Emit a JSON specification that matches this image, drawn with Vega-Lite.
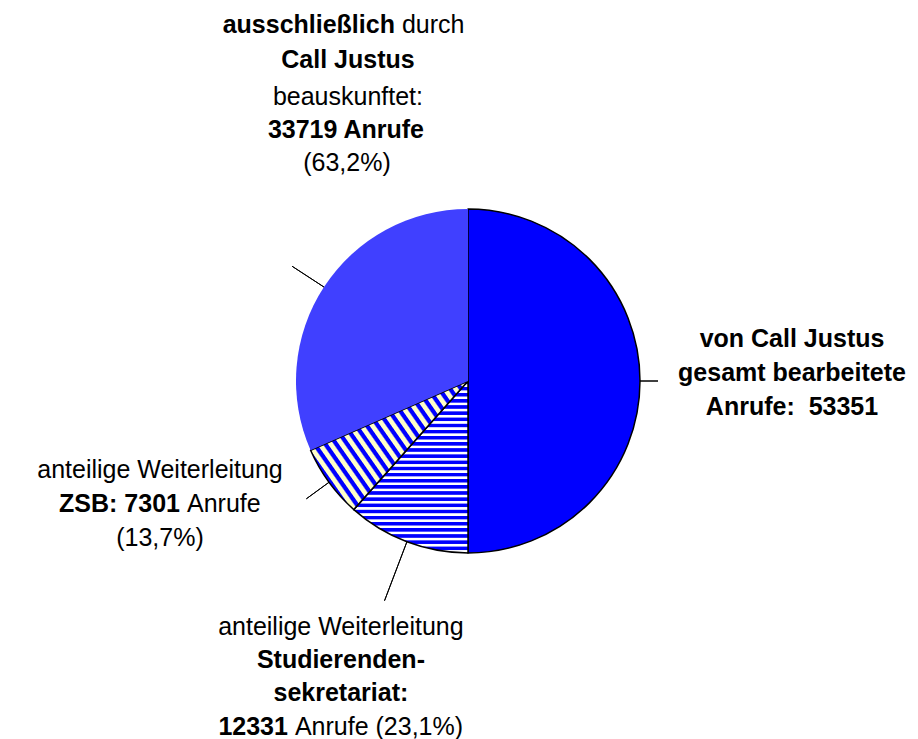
{
  "$schema": "https://vega.github.io/schema/vega-lite/v6.json",
  "width": 898,
  "height": 716,
  "padding": {"left": 19, "top": 23, "right": 1, "bottom": 0},
  "autosize": {"type": "none"},
  "background": "#ffffff",
  "config": {
    "view": {"stroke": null},
    "text": {"font": "Liberation Sans", "fontSize": 25, "fill": "#000000", "baseline": "middle"}
  },
  "data": {
    "values": [
      {"slice": "gesamt", "order": 1, "value": 53351, "t1": "von Call Justus", "t2": "gesamt bearbeitete", "t3": "Anrufe:\u00a0 53351"},
      {"slice": "studierendensekretariat", "order": 2, "value": 12331, "t1": "anteilige Weiterleitung", "t2": "Studierenden-", "t3": "sekretariat:", "t4b": "12331", "t4": "Anrufe (23,1%)"},
      {"slice": "zsb", "order": 3, "value": 7301, "t1": "anteilige Weiterleitung", "t2b": "ZSB: 7301", "t2": "Anrufe", "t3": "(13,7%)"},
      {"slice": "ausschliesslich", "order": 4, "value": 33719, "t1b": "ausschließlich", "t1": "durch", "t2": "Call Justus", "t3": "beauskunftet:", "t4": "33719 Anrufe", "t5": "(63,2%)"}
    ]
  },
  "encoding": {
    "theta": {"field": "value", "type": "quantitative", "stack": true},
    "order": {"field": "order", "type": "quantitative"}
  },
  "layer": [
    {
      "mark": {"type": "arc", "radius": 172, "strokeWidth": 1.5, "strokeJoin": "round"},
      "encoding": {
        "fill": {
          "condition": [
            {"test": "datum.slice === 'studierendensekretariat'", "value": {"gradient": "linear", "x1": 0, "y1": 0, "x2": 0, "y2": 1, "stops": [
              {"offset": 0, "color": "#0000ff"}, {"offset": 0.0161, "color": "#0000ff"}, {"offset": 0.0214, "color": "#ffffff"}, {"offset": 0.0321, "color": "#ffffff"},
              {"offset": 0.0357, "color": "#0000ff"}, {"offset": 0.0518, "color": "#0000ff"}, {"offset": 0.0571, "color": "#ffffff"}, {"offset": 0.0679, "color": "#ffffff"},
              {"offset": 0.0714, "color": "#0000ff"}, {"offset": 0.0875, "color": "#0000ff"}, {"offset": 0.0929, "color": "#ffffff"}, {"offset": 0.1036, "color": "#ffffff"},
              {"offset": 0.1071, "color": "#0000ff"}, {"offset": 0.1232, "color": "#0000ff"}, {"offset": 0.1286, "color": "#ffffff"}, {"offset": 0.1393, "color": "#ffffff"},
              {"offset": 0.1429, "color": "#0000ff"}, {"offset": 0.1589, "color": "#0000ff"}, {"offset": 0.1643, "color": "#ffffff"}, {"offset": 0.1750, "color": "#ffffff"},
              {"offset": 0.1786, "color": "#0000ff"}, {"offset": 0.1946, "color": "#0000ff"}, {"offset": 0.2000, "color": "#ffffff"}, {"offset": 0.2107, "color": "#ffffff"},
              {"offset": 0.2143, "color": "#0000ff"}, {"offset": 0.2304, "color": "#0000ff"}, {"offset": 0.2357, "color": "#ffffff"}, {"offset": 0.2464, "color": "#ffffff"},
              {"offset": 0.2500, "color": "#0000ff"}, {"offset": 0.2661, "color": "#0000ff"}, {"offset": 0.2714, "color": "#ffffff"}, {"offset": 0.2821, "color": "#ffffff"},
              {"offset": 0.2857, "color": "#0000ff"}, {"offset": 0.3018, "color": "#0000ff"}, {"offset": 0.3071, "color": "#ffffff"}, {"offset": 0.3179, "color": "#ffffff"},
              {"offset": 0.3214, "color": "#0000ff"}, {"offset": 0.3375, "color": "#0000ff"}, {"offset": 0.3429, "color": "#ffffff"}, {"offset": 0.3536, "color": "#ffffff"},
              {"offset": 0.3571, "color": "#0000ff"}, {"offset": 0.3732, "color": "#0000ff"}, {"offset": 0.3786, "color": "#ffffff"}, {"offset": 0.3893, "color": "#ffffff"},
              {"offset": 0.3929, "color": "#0000ff"}, {"offset": 0.4089, "color": "#0000ff"}, {"offset": 0.4143, "color": "#ffffff"}, {"offset": 0.4250, "color": "#ffffff"},
              {"offset": 0.4286, "color": "#0000ff"}, {"offset": 0.4446, "color": "#0000ff"}, {"offset": 0.4500, "color": "#ffffff"}, {"offset": 0.4607, "color": "#ffffff"},
              {"offset": 0.4643, "color": "#0000ff"}, {"offset": 0.4804, "color": "#0000ff"}, {"offset": 0.4857, "color": "#ffffff"}, {"offset": 0.4964, "color": "#ffffff"},
              {"offset": 0.5000, "color": "#0000ff"}, {"offset": 0.5161, "color": "#0000ff"}, {"offset": 0.5214, "color": "#ffffff"}, {"offset": 0.5321, "color": "#ffffff"},
              {"offset": 0.5357, "color": "#0000ff"}, {"offset": 0.5518, "color": "#0000ff"}, {"offset": 0.5571, "color": "#ffffff"}, {"offset": 0.5679, "color": "#ffffff"},
              {"offset": 0.5714, "color": "#0000ff"}, {"offset": 0.5875, "color": "#0000ff"}, {"offset": 0.5929, "color": "#ffffff"}, {"offset": 0.6036, "color": "#ffffff"},
              {"offset": 0.6071, "color": "#0000ff"}, {"offset": 0.6232, "color": "#0000ff"}, {"offset": 0.6286, "color": "#ffffff"}, {"offset": 0.6393, "color": "#ffffff"},
              {"offset": 0.6429, "color": "#0000ff"}, {"offset": 0.6589, "color": "#0000ff"}, {"offset": 0.6643, "color": "#ffffff"}, {"offset": 0.6750, "color": "#ffffff"},
              {"offset": 0.6786, "color": "#0000ff"}, {"offset": 0.6946, "color": "#0000ff"}, {"offset": 0.7000, "color": "#ffffff"}, {"offset": 0.7107, "color": "#ffffff"},
              {"offset": 0.7143, "color": "#0000ff"}, {"offset": 0.7304, "color": "#0000ff"}, {"offset": 0.7357, "color": "#ffffff"}, {"offset": 0.7464, "color": "#ffffff"},
              {"offset": 0.7500, "color": "#0000ff"}, {"offset": 0.7661, "color": "#0000ff"}, {"offset": 0.7714, "color": "#ffffff"}, {"offset": 0.7821, "color": "#ffffff"},
              {"offset": 0.7857, "color": "#0000ff"}, {"offset": 0.8018, "color": "#0000ff"}, {"offset": 0.8071, "color": "#ffffff"}, {"offset": 0.8179, "color": "#ffffff"},
              {"offset": 0.8214, "color": "#0000ff"}, {"offset": 0.8375, "color": "#0000ff"}, {"offset": 0.8429, "color": "#ffffff"}, {"offset": 0.8536, "color": "#ffffff"},
              {"offset": 0.8571, "color": "#0000ff"}, {"offset": 0.8732, "color": "#0000ff"}, {"offset": 0.8786, "color": "#ffffff"}, {"offset": 0.8893, "color": "#ffffff"},
              {"offset": 0.8929, "color": "#0000ff"}, {"offset": 0.9089, "color": "#0000ff"}, {"offset": 0.9143, "color": "#ffffff"}, {"offset": 0.9250, "color": "#ffffff"},
              {"offset": 0.9286, "color": "#0000ff"}, {"offset": 0.9446, "color": "#0000ff"}, {"offset": 0.9500, "color": "#ffffff"}, {"offset": 0.9607, "color": "#ffffff"},
              {"offset": 0.9643, "color": "#0000ff"}, {"offset": 0.9804, "color": "#0000ff"}, {"offset": 0.9857, "color": "#ffffff"}, {"offset": 0.9964, "color": "#ffffff"},
              {"offset": 1, "color": "#0000ff"}
            ]}},
            {"test": "datum.slice === 'zsb'", "value": {"gradient": "linear", "x1": -0.1, "y1": 0.843, "x2": 1.1, "y2": 0.157, "stops": [
              {"offset": 0, "color": "#ffffc8"}, {"offset": 0.0174, "color": "#ffffc8"}, {"offset": 0.0239, "color": "#0000ff"}, {"offset": 0.0391, "color": "#0000ff"},
              {"offset": 0.0435, "color": "#ffffc8"}, {"offset": 0.0609, "color": "#ffffc8"}, {"offset": 0.0674, "color": "#0000ff"}, {"offset": 0.0826, "color": "#0000ff"},
              {"offset": 0.0870, "color": "#ffffc8"}, {"offset": 0.1043, "color": "#ffffc8"}, {"offset": 0.1109, "color": "#0000ff"}, {"offset": 0.1261, "color": "#0000ff"},
              {"offset": 0.1304, "color": "#ffffc8"}, {"offset": 0.1478, "color": "#ffffc8"}, {"offset": 0.1543, "color": "#0000ff"}, {"offset": 0.1696, "color": "#0000ff"},
              {"offset": 0.1739, "color": "#ffffc8"}, {"offset": 0.1913, "color": "#ffffc8"}, {"offset": 0.1978, "color": "#0000ff"}, {"offset": 0.2130, "color": "#0000ff"},
              {"offset": 0.2174, "color": "#ffffc8"}, {"offset": 0.2348, "color": "#ffffc8"}, {"offset": 0.2413, "color": "#0000ff"}, {"offset": 0.2565, "color": "#0000ff"},
              {"offset": 0.2609, "color": "#ffffc8"}, {"offset": 0.2783, "color": "#ffffc8"}, {"offset": 0.2848, "color": "#0000ff"}, {"offset": 0.3000, "color": "#0000ff"},
              {"offset": 0.3043, "color": "#ffffc8"}, {"offset": 0.3217, "color": "#ffffc8"}, {"offset": 0.3283, "color": "#0000ff"}, {"offset": 0.3435, "color": "#0000ff"},
              {"offset": 0.3478, "color": "#ffffc8"}, {"offset": 0.3652, "color": "#ffffc8"}, {"offset": 0.3717, "color": "#0000ff"}, {"offset": 0.3870, "color": "#0000ff"},
              {"offset": 0.3913, "color": "#ffffc8"}, {"offset": 0.4087, "color": "#ffffc8"}, {"offset": 0.4152, "color": "#0000ff"}, {"offset": 0.4304, "color": "#0000ff"},
              {"offset": 0.4348, "color": "#ffffc8"}, {"offset": 0.4522, "color": "#ffffc8"}, {"offset": 0.4587, "color": "#0000ff"}, {"offset": 0.4739, "color": "#0000ff"},
              {"offset": 0.4783, "color": "#ffffc8"}, {"offset": 0.4957, "color": "#ffffc8"}, {"offset": 0.5022, "color": "#0000ff"}, {"offset": 0.5174, "color": "#0000ff"},
              {"offset": 0.5217, "color": "#ffffc8"}, {"offset": 0.5391, "color": "#ffffc8"}, {"offset": 0.5457, "color": "#0000ff"}, {"offset": 0.5609, "color": "#0000ff"},
              {"offset": 0.5652, "color": "#ffffc8"}, {"offset": 0.5826, "color": "#ffffc8"}, {"offset": 0.5891, "color": "#0000ff"}, {"offset": 0.6043, "color": "#0000ff"},
              {"offset": 0.6087, "color": "#ffffc8"}, {"offset": 0.6261, "color": "#ffffc8"}, {"offset": 0.6326, "color": "#0000ff"}, {"offset": 0.6478, "color": "#0000ff"},
              {"offset": 0.6522, "color": "#ffffc8"}, {"offset": 0.6696, "color": "#ffffc8"}, {"offset": 0.6761, "color": "#0000ff"}, {"offset": 0.6913, "color": "#0000ff"},
              {"offset": 0.6957, "color": "#ffffc8"}, {"offset": 0.7130, "color": "#ffffc8"}, {"offset": 0.7196, "color": "#0000ff"}, {"offset": 0.7348, "color": "#0000ff"},
              {"offset": 0.7391, "color": "#ffffc8"}, {"offset": 0.7565, "color": "#ffffc8"}, {"offset": 0.7630, "color": "#0000ff"}, {"offset": 0.7783, "color": "#0000ff"},
              {"offset": 0.7826, "color": "#ffffc8"}, {"offset": 0.8000, "color": "#ffffc8"}, {"offset": 0.8065, "color": "#0000ff"}, {"offset": 0.8217, "color": "#0000ff"},
              {"offset": 0.8261, "color": "#ffffc8"}, {"offset": 0.8435, "color": "#ffffc8"}, {"offset": 0.8500, "color": "#0000ff"}, {"offset": 0.8652, "color": "#0000ff"},
              {"offset": 0.8696, "color": "#ffffc8"}, {"offset": 0.8870, "color": "#ffffc8"}, {"offset": 0.8935, "color": "#0000ff"}, {"offset": 0.9087, "color": "#0000ff"},
              {"offset": 0.9130, "color": "#ffffc8"}, {"offset": 0.9304, "color": "#ffffc8"}, {"offset": 0.9370, "color": "#0000ff"}, {"offset": 0.9522, "color": "#0000ff"},
              {"offset": 0.9565, "color": "#ffffc8"}, {"offset": 0.9739, "color": "#ffffc8"}, {"offset": 0.9804, "color": "#0000ff"}, {"offset": 0.9957, "color": "#0000ff"},
              {"offset": 1, "color": "#ffffc8"}
            ]}},
            {"test": "datum.slice === 'ausschliesslich'", "value": "#4040ff"}
          ],
          "value": "#0000ff"
        },
        "stroke": {"condition": {"test": "datum.slice === 'ausschliesslich'", "value": "transparent"}, "value": "#000000"}
      }
    },
    {
      "mark": {"type": "arc", "radius": 190, "radius2": 172, "padAngle": 3, "fill": "transparent", "stroke": "#000000", "strokeWidth": 1},
      "encoding": {"opacity": {"condition": {"test": "datum.slice === 'gesamt'", "value": 1}, "value": 0}}
    },
    {
      "mark": {"type": "arc", "radius": 235, "radius2": 172, "padAngle": 3, "fill": "transparent", "stroke": "#000000", "strokeWidth": 1},
      "encoding": {"opacity": {"condition": {"test": "datum.slice === 'studierendensekretariat'", "value": 1}, "value": 0}}
    },
    {
      "mark": {"type": "arc", "radius": 200, "radius2": 172, "padAngle": 3, "fill": "transparent", "stroke": "#000000", "strokeWidth": 1},
      "encoding": {"opacity": {"condition": {"test": "datum.slice === 'zsb'", "value": 1}, "value": 0}}
    },
    {
      "mark": {"type": "arc", "radius": 210, "radius2": 172, "padAngle": 3, "fill": "transparent", "stroke": "#000000", "strokeWidth": 1},
      "encoding": {"opacity": {"condition": {"test": "datum.slice === 'ausschliesslich'", "value": 1}, "value": 0}}
    },
    {"mark": {"type": "text", "radius": 172, "dx": 152, "dy": -42, "fontWeight": "bold", "align": "center"},
     "encoding": {"text": {"condition": {"test": "datum.slice === 'gesamt'", "field": "t1", "type": "nominal"}, "value": ""}}},
    {"mark": {"type": "text", "radius": 172, "dx": 152, "dy": -8, "fontWeight": "bold", "align": "center"},
     "encoding": {"text": {"condition": {"test": "datum.slice === 'gesamt'", "field": "t2", "type": "nominal"}, "value": ""}}},
    {"mark": {"type": "text", "radius": 172, "dx": 152, "dy": 26, "fontWeight": "bold", "align": "center"},
     "encoding": {"text": {"condition": {"test": "datum.slice === 'gesamt'", "field": "t3", "type": "nominal"}, "value": ""}}},
    {"mark": {"type": "text", "radius": 172, "dx": -66, "dy": 85, "fontWeight": "normal", "align": "center"},
     "encoding": {"text": {"condition": {"test": "datum.slice === 'studierendensekretariat'", "field": "t1", "type": "nominal"}, "value": ""}}},
    {"mark": {"type": "text", "radius": 172, "dx": -66, "dy": 118, "fontWeight": "bold", "align": "center"},
     "encoding": {"text": {"condition": {"test": "datum.slice === 'studierendensekretariat'", "field": "t2", "type": "nominal"}, "value": ""}}},
    {"mark": {"type": "text", "radius": 172, "dx": -66, "dy": 151, "fontWeight": "bold", "align": "center"},
     "encoding": {"text": {"condition": {"test": "datum.slice === 'studierendensekretariat'", "field": "t3", "type": "nominal"}, "value": ""}}},
    {"mark": {"type": "text", "radius": 172, "dx": -119, "dy": 185, "fontWeight": "bold", "align": "right"},
     "encoding": {"text": {"condition": {"test": "datum.slice === 'studierendensekretariat'", "field": "t4b", "type": "nominal"}, "value": ""}}},
    {"mark": {"type": "text", "radius": 172, "dx": -112, "dy": 185, "fontWeight": "normal", "align": "left"},
     "encoding": {"text": {"condition": {"test": "datum.slice === 'studierendensekretariat'", "field": "t4", "type": "nominal"}, "value": ""}}},
    {"mark": {"type": "text", "radius": 172, "dx": -169, "dy": -12, "fontWeight": "normal", "align": "center"},
     "encoding": {"text": {"condition": {"test": "datum.slice === 'zsb'", "field": "t1", "type": "nominal"}, "value": ""}}},
    {"mark": {"type": "text", "radius": 172, "dx": -149, "dy": 22, "fontWeight": "bold", "align": "right"},
     "encoding": {"text": {"condition": {"test": "datum.slice === 'zsb'", "field": "t2b", "type": "nominal"}, "value": ""}}},
    {"mark": {"type": "text", "radius": 172, "dx": -142, "dy": 22, "fontWeight": "normal", "align": "left"},
     "encoding": {"text": {"condition": {"test": "datum.slice === 'zsb'", "field": "t2", "type": "nominal"}, "value": ""}}},
    {"mark": {"type": "text", "radius": 172, "dx": -169, "dy": 56, "fontWeight": "normal", "align": "center"},
     "encoding": {"text": {"condition": {"test": "datum.slice === 'zsb'", "field": "t3", "type": "nominal"}, "value": ""}}},
    {"mark": {"type": "text", "radius": 172, "dx": 71, "dy": -262, "fontWeight": "bold", "align": "right"},
     "encoding": {"text": {"condition": {"test": "datum.slice === 'ausschliesslich'", "field": "t1b", "type": "nominal"}, "value": ""}}},
    {"mark": {"type": "text", "radius": 172, "dx": 78, "dy": -262, "fontWeight": "normal", "align": "left"},
     "encoding": {"text": {"condition": {"test": "datum.slice === 'ausschliesslich'", "field": "t1", "type": "nominal"}, "value": ""}}},
    {"mark": {"type": "text", "radius": 172, "dx": 24, "dy": -227, "fontWeight": "bold", "align": "center"},
     "encoding": {"text": {"condition": {"test": "datum.slice === 'ausschliesslich'", "field": "t2", "type": "nominal"}, "value": ""}}},
    {"mark": {"type": "text", "radius": 172, "dx": 24, "dy": -190, "fontWeight": "normal", "align": "center"},
     "encoding": {"text": {"condition": {"test": "datum.slice === 'ausschliesslich'", "field": "t3", "type": "nominal"}, "value": ""}}},
    {"mark": {"type": "text", "radius": 172, "dx": 22, "dy": -157, "fontWeight": "bold", "align": "center"},
     "encoding": {"text": {"condition": {"test": "datum.slice === 'ausschliesslich'", "field": "t4", "type": "nominal"}, "value": ""}}},
    {"mark": {"type": "text", "radius": 172, "dx": 23, "dy": -124, "fontWeight": "normal", "align": "center"},
     "encoding": {"text": {"condition": {"test": "datum.slice === 'ausschliesslich'", "field": "t5", "type": "nominal"}, "value": ""}}}
  ]
}
